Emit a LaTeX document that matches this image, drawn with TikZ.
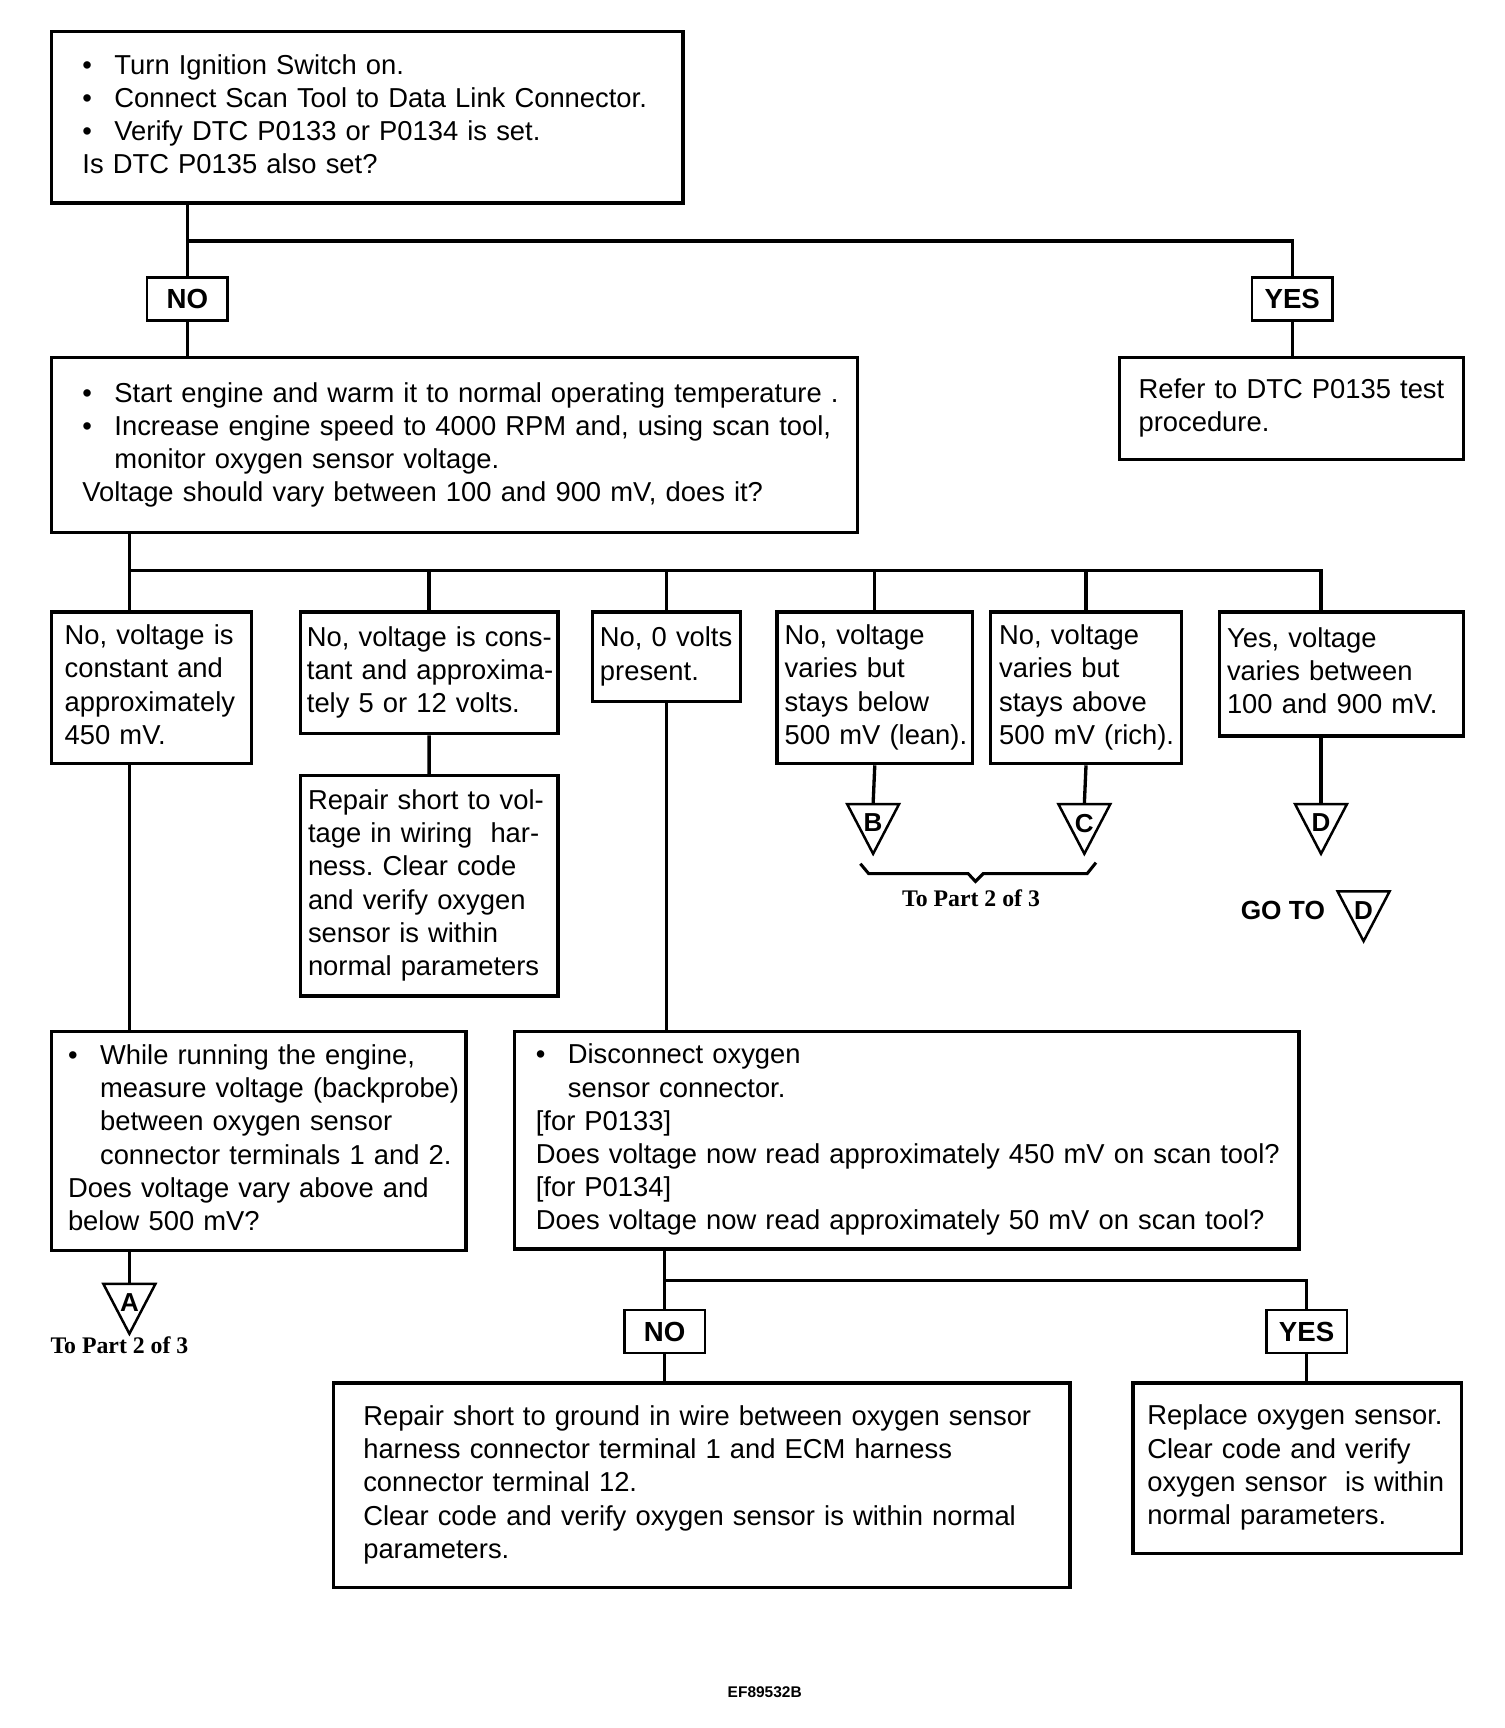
\documentclass[tikz,border=0pt]{standalone}
\usepackage{fontspec}
\setmainfont{Liberation Sans}
\newfontfamily\notefont{Liberation Serif}
\usetikzlibrary{positioning}
\frenchspacing

\newcommand{\rows}[1]{\begin{tabular}{@{}l@{}}#1\end{tabular}}
\newcommand{\bul}{\makebox[11.6pt][l]{\textbullet}}
\newcommand{\cont}{\hspace*{11.6pt}}

\tikzset{
  stepbox/.style={draw, line width=1.2pt, anchor=north west, align=left, inner ysep=0pt,
    font=\fontsize{9.9}{12}\selectfont},
  answer/.style={draw, line width=1pt, minimum width=29.2pt, minimum height=15.6pt, inner sep=0pt,
    font=\bfseries\fontsize{10}{12}\selectfont},
  wire/.style={line width=1.2pt},
  offpage/.style={line width=0.9pt, line join=miter},
  tag/.style={inner sep=0pt, font=\bfseries\fontsize{9.4}{10}\selectfont},
  partnote/.style={inner sep=0pt, font=\notefont\bfseries\fontsize{8.6}{10}\selectfont}
}

\begin{document}
\begin{tikzpicture}[x=0.4pt, y=-0.4pt]
\useasboundingbox (0,0) rectangle (1360,1562.5);

% first question
\node[stepbox, minimum width=228.4pt, minimum height=62pt, inner xsep=11.2pt, text width=206pt] (ignition) at (45,27)
  {\rows{\bul Turn Ignition Switch on.\\ \bul Connect Scan Tool to Data Link Connector.\\ \bul Verify DTC P0133 or P0134 is set.\\ Is DTC P0135 also set?}};
\node[answer] (no-top) at (169.5,270.5) {NO};
\node[answer] (yes-top) at (1168.5,270.5) {YES};
\coordinate (fork-top) at (169.5,218);
\draw[wire] (ignition.south -| fork-top) -- (no-top.north);
\draw[wire] (fork-top) -- (fork-top -| yes-top) -- (yes-top.north);

\node[stepbox, minimum width=291.6pt, minimum height=63.2pt, inner xsep=11.2pt, text width=269.2pt] (warm) at (45,322)
  {\rows{\bul Start engine and warm it to normal operating temperature .\\ \bul Increase engine speed to 4000 RPM and, using scan tool,\\ \cont monitor oxygen sensor voltage.\\ Voltage should vary between 100 and 900 mV, does it?}};
\node[stepbox, minimum width=124.4pt, minimum height=36.8pt, inner xsep=6.8pt, text width=110.8pt] (refer) at (1011,322)
  {\rows{Refer to DTC P0135 test\\ procedure.}};
\draw[wire] (no-top.south) -- (no-top.south |- warm.north);
\draw[wire] (yes-top.south) -- (yes-top.south |- refer.north);

% voltage readings
\node[stepbox, minimum width=72.4pt, minimum height=54.8pt, inner xsep=4.8pt, text width=62.8pt] (const450) at (45,552)
  {\rows{No, voltage is\\ constant and\\ approximately\\ 450 mV.}};
\node[stepbox, minimum width=93.2pt, minimum height=44pt, inner xsep=2.4pt, text width=88.4pt] (const12) at (270,552)
  {\rows{No, voltage is cons-\\ tant and approxima-\\ tely 5 or 12 volts.}};
\node[stepbox, minimum width=53.6pt, minimum height=32.4pt, inner xsep=2.8pt, text width=48pt] (zero) at (534,552)
  {\rows{No, 0 volts\\ present.}};
\node[stepbox, minimum width=70.8pt, minimum height=54.8pt, inner xsep=2.8pt, text width=65.2pt] (lean) at (701,552)
  {\rows{No, voltage\\ varies but\\ stays below\\ 500 mV (lean).}};
\node[stepbox, minimum width=69.2pt, minimum height=54.8pt, inner xsep=3.2pt, text width=62.8pt] (rich) at (894,552)
  {\rows{No, voltage\\ varies but\\ stays above\\ 500 mV (rich).}};
\node[stepbox, minimum width=88.4pt, minimum height=44.8pt, inner xsep=2.8pt, text width=82.8pt] (varies) at (1101,552)
  {\rows{Yes, voltage\\ varies between\\ 100 and 900 mV.}};

\coordinate (fork-mid) at (117,516);
\coordinate (top-a) at (117,1161);
\coordinate (top-b) at (789.5,727);
\coordinate (top-c) at (980.5,727);
\coordinate (top-d) at (1194.5,727);
\coordinate (top-g) at (1233,806);
\draw[wire] (warm.south -| fork-mid) -- (fork-mid |- const450.north);
\draw[wire] (fork-mid) -- (fork-mid -| top-d) -- (top-d |- varies.north);
\foreach \n in {const12,zero,lean,rich}
  \draw[wire] (fork-mid -| \n.north) -- (\n.north);

\node[stepbox, minimum width=93.2pt, minimum height=79.6pt, inner xsep=2.8pt, text width=87.6pt] (shortv) at (270,700)
  {\rows{Repair short to vol-\\ tage in wiring\ \ har-\\ ness. Clear code\\ and verify oxygen\\ sensor is within\\ normal parameters}};
\node[stepbox, minimum width=150pt, minimum height=79.2pt, inner xsep=6pt, text width=138pt] (backprobe) at (45,931)
  {\rows{\bul While running the engine,\\ \cont measure voltage (backprobe)\\ \cont between oxygen sensor\\ \cont connector terminals 1 and 2.\\ Does voltage vary above and\\ below 500 mV?}};
\node[stepbox, minimum width=283.6pt, minimum height=78.8pt, inner xsep=7.6pt, text width=268.4pt] (disconnect) at (464,931)
  {\rows{\bul Disconnect oxygen\\ \cont sensor connector.\\ {}[for P0133]\\ Does voltage now read approximately 450 mV on scan tool?\\ {}[for P0134]\\ Does voltage now read approximately 50 mV on scan tool?}};
\draw[wire] (const12.south) -- (shortv.north);
\draw[wire] (const450.south -| fork-mid) -- (backprobe.north -| fork-mid);
\draw[wire] (zero.south) -- (zero.south |- disconnect.north);
\draw[wire] (lean.south) -- (top-b);
\draw[wire] (rich.south) -- (top-c);
\draw[wire] (varies.south -| top-d) -- (top-d);
\draw[wire] (backprobe.south -| top-a) -- (top-a);

% after disconnecting
\node[answer] (no-low) at (601,1204) {NO};
\node[answer] (yes-low) at (1181.5,1204) {YES};
\coordinate (fork-low) at (601,1158);
\draw[wire] (disconnect.south -| fork-low) -- (no-low.north);
\draw[wire] (fork-low) -- (fork-low -| yes-low) -- (yes-low.north);
\node[stepbox, minimum width=266.4pt, minimum height=74pt, inner xsep=10.8pt, text width=244.8pt] (shortg) at (300,1249)
  {\rows{Repair short to ground in wire between oxygen sensor\\ harness connector terminal 1 and ECM harness\\ connector terminal 12.\\ Clear code and verify oxygen sensor is within normal\\ parameters.}};
\node[stepbox, minimum width=118.8pt, minimum height=61.6pt, inner xsep=5.2pt, text width=108.4pt] (replace) at (1023,1249)
  {\rows{Replace oxygen sensor.\\ Clear code and verify\\ oxygen sensor\ \ is within\\ normal parameters.}};
\draw[wire] (no-low.south) -- (no-low.south |- shortg.north);
\draw[wire] (yes-low.south) -- (yes-low.south |- replace.north);

% off-page connectors
\foreach \t/\l in {a/A,b/B,c/C,d/D,g/D}{
  \draw[offpage] (top-\t) -- ++(-23.5,0) -- ++(23.5,45) -- ++(23.5,-45) -- cycle;
  \node[tag, below=3.4pt of top-\t] (tag-\t) {\l};
}
\draw[wire, line width=1.1pt] (778,781) -- (785.5,790) -- (875.5,790) -- (882,797) -- (889,790) -- (983,790) -- (991,780);
\node[partnote] (note-bc) at (878,812) {To Part 2 of 3};
\node[partnote] (note-a) at (108,1216) {To Part 2 of 3};
\node[tag, font=\bfseries\fontsize{9.5}{10}\selectfont] (goto) at (1160,823.5) {GO TO};

\node[inner sep=0pt, font=\bfseries\fontsize{5.6}{6}\selectfont] (figid) at (691.5,1530) {EF89532B};
\end{tikzpicture}
\end{document}
